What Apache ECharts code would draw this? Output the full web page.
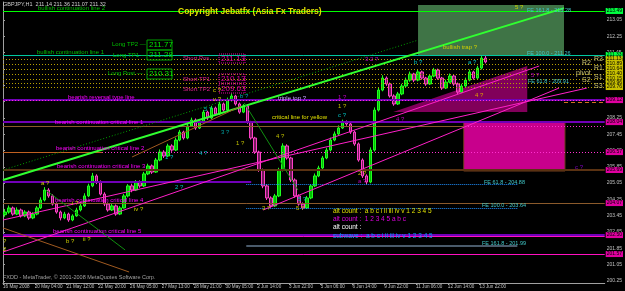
<!DOCTYPE html>
<html>
<head>
<meta charset="utf-8">
<script src="https://cdn.jsdelivr.net/npm/echarts@6/dist/echarts.min.js"></script>
<style>
html, body { margin: 0; padding: 0; background: #000; }
#chart { width: 625px; height: 291px; }
</style>
</head>
<body>
<div id="chart"></div>
<script>
// time axis (hour index) and price axis ticks
const timeTicks = [0, 32, 64, 96, 128, 160, 192, 224, 256, 288, 320, 352, 384, 416, 448, 480];
const timeLabels = ['16 May 2008', '20 May 04:00', '21 May 12:00', '22 May 20:00', '26 May 05:00', '27 May 13:00',
    '28 May 21:00', '30 May 05:00', '2 Jun 14:00', '3 Jun 22:00', '5 Jun 06:00', '6 Jun 14:00',
    '9 Jun 22:00', '11 Jun 06:00', '12 Jun 14:00', '13 Jun 22:00'];
const priceTicks = [200.25, 201.05, 201.85, 202.65, 203.45, 204.25, 205.05, 205.85, 206.65,
    207.45, 208.25, 209.05, 209.85, 210.65, 211.45, 212.25, 213.05];

// [hour, open, close, low, high]
const candles = [
    [2, 203.50, 203.63, 203.40, 203.78], [6, 203.63, 203.83, 203.55, 203.95], [10, 203.83, 203.53, 203.45, 203.90],
    [14, 203.53, 203.73, 203.48, 203.86], [18, 203.73, 203.44, 203.36, 203.80], [22, 203.44, 203.63, 203.38, 203.72],
    [26, 203.63, 203.34, 203.25, 203.70], [30, 203.34, 203.53, 203.28, 203.62], [34, 203.53, 203.83, 203.47, 203.92],
    [38, 203.83, 204.22, 203.78, 204.35], [42, 204.22, 204.71, 204.15, 204.85], [46, 204.71, 204.42, 204.33, 204.80],
    [50, 204.42, 204.02, 203.95, 204.50], [54, 204.02, 203.63, 203.55, 204.10], [58, 203.63, 203.34, 203.22, 203.70],
    [62, 203.34, 203.53, 203.28, 203.64], [66, 203.53, 203.24, 203.15, 203.60], [70, 203.24, 203.44, 203.18, 203.52],
    [74, 203.44, 203.73, 203.40, 203.84], [78, 203.73, 203.93, 203.66, 204.05], [82, 203.93, 204.42, 203.88, 204.55],
    [86, 204.42, 204.91, 204.36, 205.02], [90, 204.91, 205.40, 204.85, 205.55], [94, 205.40, 205.10, 205.00, 205.48],
    [98, 205.10, 204.51, 204.44, 205.18], [102, 204.51, 204.02, 203.92, 204.60], [106, 204.02, 203.73, 203.65, 204.10],
    [110, 203.73, 203.93, 203.68, 204.04], [114, 203.93, 203.53, 203.45, 204.00], [118, 203.53, 203.83, 203.48, 203.92],
    [122, 203.83, 204.42, 203.80, 204.52], [126, 204.42, 204.91, 204.35, 205.00], [130, 204.91, 204.71, 204.60, 205.02],
    [134, 204.71, 205.10, 204.66, 205.20], [138, 205.10, 204.91, 204.82, 205.18], [142, 204.91, 205.50, 204.86, 205.60],
    [146, 205.50, 205.89, 205.44, 206.00], [150, 205.89, 205.59, 205.50, 205.96], [154, 205.59, 206.18, 205.55, 206.28],
    [158, 206.18, 206.57, 206.12, 206.70], [162, 206.57, 206.38, 206.28, 206.66], [166, 206.38, 206.87, 206.32, 206.98],
    [170, 206.87, 206.67, 206.58, 206.95], [174, 206.67, 207.16, 206.62, 207.28], [178, 207.16, 207.55, 207.10, 207.66],
    [182, 207.55, 207.26, 207.18, 207.62], [186, 207.26, 207.85, 207.20, 207.96], [190, 207.85, 208.14, 207.80, 208.26],
    [194, 208.14, 207.75, 207.66, 208.22], [198, 207.75, 208.04, 207.70, 208.14], [202, 208.04, 208.53, 207.98, 208.64],
    [206, 208.53, 208.24, 208.15, 208.60], [210, 208.24, 208.73, 208.18, 208.84], [214, 208.73, 208.44, 208.36, 208.80],
    [218, 208.44, 208.93, 208.40, 209.04], [222, 208.93, 208.63, 208.55, 209.00], [226, 208.63, 209.12, 208.58, 209.24],
    [230, 209.12, 209.32, 209.05, 209.45], [234, 209.32, 208.93, 208.85, 209.38], [238, 208.93, 208.53, 208.45, 209.00],
    [242, 208.53, 208.83, 208.48, 208.92], [246, 208.83, 208.04, 207.96, 208.90], [250, 208.04, 207.26, 207.18, 208.10],
    [254, 207.26, 206.57, 206.48, 207.32], [258, 206.57, 205.69, 205.60, 206.64], [262, 205.69, 204.91, 204.80, 205.76],
    [266, 204.91, 204.32, 204.22, 205.00], [270, 204.32, 203.93, 203.84, 204.40], [274, 203.93, 204.42, 203.88, 204.52],
    [278, 204.42, 205.69, 204.36, 205.80], [282, 205.69, 206.87, 205.62, 207.00], [286, 206.87, 206.28, 206.20, 206.95],
    [290, 206.28, 205.20, 205.10, 206.34], [294, 205.20, 204.42, 204.34, 205.28], [298, 204.42, 204.02, 203.94, 204.50],
    [302, 204.02, 203.83, 203.74, 204.10], [306, 203.83, 204.32, 203.78, 204.42], [310, 204.32, 204.91, 204.26, 205.00],
    [314, 204.91, 205.40, 204.85, 205.52], [318, 205.40, 205.79, 205.34, 205.90], [322, 205.79, 206.28, 205.72, 206.38],
    [326, 206.28, 206.67, 206.22, 206.78], [330, 206.67, 207.16, 206.60, 207.28], [334, 207.16, 207.46, 207.10, 207.58],
    [338, 207.46, 207.75, 207.40, 207.88], [342, 207.75, 208.04, 207.70, 208.16], [346, 208.04, 207.95, 207.86, 208.12],
    [350, 207.95, 207.55, 207.46, 208.02], [354, 207.55, 206.97, 206.88, 207.62], [358, 206.97, 206.18, 206.10, 207.04],
    [362, 206.18, 205.40, 205.30, 206.26], [366, 205.40, 205.10, 204.98, 205.48], [370, 205.10, 206.67, 205.04, 206.80],
    [374, 206.67, 208.63, 206.60, 208.76], [378, 208.63, 209.61, 208.56, 209.74], [382, 209.61, 210.20, 209.55, 210.34],
    [386, 210.20, 209.91, 209.82, 210.28], [390, 209.91, 209.32, 209.24, 209.98], [394, 209.32, 208.93, 208.84, 209.40],
    [398, 208.93, 209.42, 208.88, 209.52], [402, 209.42, 209.81, 209.36, 209.92], [406, 209.81, 210.10, 209.74, 210.22],
    [410, 210.10, 210.40, 210.02, 210.52], [414, 210.40, 210.10, 210.00, 210.46], [418, 210.10, 210.50, 210.04, 210.62],
    [422, 210.50, 210.20, 210.12, 210.56], [426, 210.20, 209.91, 209.82, 210.26], [430, 209.91, 210.30, 209.86, 210.40],
    [434, 210.30, 210.59, 210.24, 210.70], [438, 210.59, 210.20, 210.12, 210.66], [442, 210.20, 209.71, 209.62, 210.26],
    [446, 209.71, 210.00, 209.66, 210.12], [450, 210.00, 210.30, 209.94, 210.42], [454, 210.30, 209.91, 209.82, 210.36],
    [458, 209.91, 209.51, 209.42, 209.98], [462, 209.51, 209.81, 209.46, 209.92], [466, 209.81, 210.10, 209.74, 210.22],
    [470, 210.10, 210.50, 210.04, 210.62], [474, 210.50, 210.20, 210.12, 210.56], [478, 210.20, 210.69, 210.14, 210.80],
    [482, 210.69, 211.18, 210.62, 211.30], [486, 211.18, 210.99, 210.92, 211.32]
];

// horizontal levels
const greenLevels = [213.49, 211.33];
const pivotLevels = [211.13, 210.89, 210.64, 210.40, 210.15, 209.96, 209.76];
const pivotNames = ['R3', 'R2', 'R1', 'pivot', 'S1', 'S2', 'S3'];
const purpleLevels = [209.12, 208.04, 202.50];
const magentaDotLevels = [209.12, 207.85, 206.57];
const brownLevels = [207.85, 205.69, 204.07];
const feLevels = [205.00, 203.83, 201.97];
const magentaLevels = [202.45, 201.57];
const magentaTags = [209.12, 208.04, 206.57, 205.69, 204.07, 202.50, 201.57];

// trend lines [[hour, price], [hour, price]]
const trendGreen = [[0, 205.20], [565, 213.63]];
const trendGreenDotted = [[0, 205.69], [418, 212.06]];
const trendMagenta = [
    [[0, 201.67], [540, 210.79]],
    [[0, 203.24], [588, 209.71]],
    [[262, 203.73], [560, 209.71]]
];
const trendBrown = [
    [[0, 202.85], [127, 200.69]],
    [[130, 206.33], [240, 208.83]]
];
const trendThinGreen = [
    [[43, 204.71], [123, 201.77]],
    [[243, 208.98], [297, 204.71]]
];

// zones
const greenZone = [[418, 213.78], [565, 211.28]];
const magentaZone = [[464, 208.04], [566, 205.64]];
const magentaWedge = [[393, 208.53], [528, 210.79], [528, 208.53]];

const FONT = 'Liberation Sans';
const XMAX = 606;

function seg(a, b, color, type, width) {
    return [{ coord: a, lineStyle: { color: color, type: type, width: width } }, { coord: b }];
}
function tag(item, p, bg) {
    item[0].label = {
        show: true, position: 'end', distance: 1, formatter: p.toFixed(2),
        backgroundColor: bg, color: '#000', fontSize: 5, fontFamily: FONT, padding: [1, 1, 0, 1]
    };
    return item;
}

let lines = [];
greenLevels.forEach(function (p, i) {
    lines.push(tag(seg([0, p], [XMAX, p], i == 0 ? '#00ff00' : '#00c8a0', 'solid', 1), p, '#00ff40'));
});
pivotLevels.forEach(function (p) {
    lines.push(tag(seg([0, p], [XMAX, p], '#b8a000', [1, 2], 1), p, '#c8c000'));
});
purpleLevels.forEach(function (p) {
    lines.push(seg([0, p], [XMAX, p], '#7000b8', 'solid', 2));
});
lines.push(seg([0, 205.10], [250, 205.10], '#7000b8', 'solid', 2));
magentaDotLevels.forEach(function (p) {
    lines.push(seg([0, p], [XMAX, p], '#ff30d0', [1, 2], 1));
});
lines.push(seg([0, 204.07], [245, 204.07], '#ff30d0', [1, 2], 1));
brownLevels.forEach(function (p, i) {
    lines.push(seg([i == 0 ? 0 : 245, p], [i == 0 ? 464 : XMAX, p], i == 1 ? '#5a3212' : '#8b5a2b', 'solid', i == 1 ? 2 : 1));
});
lines.push(seg([0, 205.69], [245, 205.69], '#5a3212', 'solid', 2));
lines.push(seg([0, 204.07], [245, 204.07], '#8b5a2b', 'solid', 1));
lines.push(seg([0, 206.57], [100, 206.57], '#c06020', 'solid', 1));
lines.push(seg([565, 209.02], [XMAX, 209.02], '#d07020', [4, 3], 1));
feLevels.forEach(function (p, i) {
    lines.push(seg([245, p], [518, p], i == 2 ? '#4a5a6a' : '#1e90ff', i == 2 ? 'solid' : [1, 1], i == 2 ? 2 : 1));
});
magentaLevels.forEach(function (p) {
    lines.push(seg([0, p], [XMAX, p], '#ff10c0', 'solid', 1));
});
magentaTags.forEach(function (p) {
    lines.push(tag(seg([XMAX - 1, p], [XMAX, p], 'rgba(0,0,0,0)', 'solid', 0), p, '#e000a0'));
});
lines.push(seg(trendGreen[0], trendGreen[1], '#30ff30', 'solid', 2));
lines.push(seg(trendGreenDotted[0], trendGreenDotted[1], '#00a000', [1, 2], 1));
trendMagenta.forEach(function (t) { lines.push(seg(t[0], t[1], '#ff20c8', 'solid', 1)); });
trendBrown.forEach(function (t) { lines.push(seg(t[0], t[1], '#a05a20', 'solid', 1)); });
trendThinGreen.forEach(function (t) { lines.push(seg(t[0], t[1], '#109010', 'solid', 1)); });

function txt(x, y, s, color, size, weight) {
    return {
        type: 'text', x: x, y: y, z: 100, silent: true,
        style: { text: s, fill: color, fontSize: size || 6, fontFamily: FONT, fontWeight: weight || 'normal', verticalAlign: 'top' }
    };
}
function box(x, y, w, h, color, dash) {
    return {
        type: 'rect', z: 100, silent: true, shape: { x: x, y: y, width: w, height: h },
        style: { fill: 'none', stroke: color, lineWidth: 1, lineDash: dash ? [1, 1] : null }
    };
}

let graphics = [
    txt(3, 1, 'GBPJPY,H1  211.14 211.36 211.07 211.32', '#d0d0d0', 5.5),
    txt(38, 5, 'bullish continuation line 2', '#00c000', 6),
    txt(178, 7, 'Copyright Jebatfx (Asia Fx Traders)', '#e0e000', 8.5, 'bold'),
    txt(112, 41, 'Long TP2 \u2014', '#00c000', 6),
    box(147, 40, 25, 10, '#00a000'), txt(149, 41, '211.77', '#00e000', 8),
    txt(37, 49, 'bullish continuation line 1', '#00c000', 6),
    txt(113, 52, 'Long TP1 \u2014', '#00c000', 6),
    box(147, 50, 25, 10, '#00a000'), txt(149, 51, '211.28', '#00e000', 8),
    txt(108, 70, 'Long Post \u2014', '#00c000', 6),
    box(147, 69, 25, 10, '#00a000'), txt(149, 70, '210.31', '#00e000', 8),
    txt(183, 55, 'Short Pos', '#e02090', 6),
    box(219, 54, 26, 9, '#e000a0', true), txt(221, 55, '211.13', '#e000a0', 8),
    txt(183, 76, 'Short TP1', '#e02090', 6),
    box(219, 74, 26, 9, '#e000a0', true), txt(221, 75, '210.13', '#e000a0', 8),
    txt(183, 86, 'Short TP2', '#e02090', 6),
    box(219, 84, 26, 9, '#e000a0', true), txt(221, 85, '209.63', '#e000a0', 8),
    txt(68, 94, 'bearish reversal type line', '#ff00ff', 6),
    txt(55, 119, 'bearish continuation critical line 1', '#ff00ff', 6),
    txt(56, 145, 'bearish continuation critical line 2', '#ff00ff', 6),
    txt(57, 163, 'bearish continuation critical line 3', '#ff00ff', 6),
    txt(55, 197, 'bearish continuation critical line 4', '#ff00ff', 6),
    txt(53, 228, 'bearish continuation critical line 5', '#ff00ff', 6),
    txt(278, 95, 'triple top ?', '#c8a8ff', 6),
    txt(272, 114, 'critical line for yellow', '#e0e000', 6),
    txt(443, 44, 'bullish trap ?', '#d0d000', 6),
    txt(515, 4, '5 ?', '#d0d000', 6),
    txt(527, 7, 'FE 161.8 - 213.28', '#40c8c8', 5.5),
    txt(527, 50, 'FE 100.0 - 211.26', '#40c8c8', 5.5),
    txt(528, 78, 'FE 61.8 - 209.91', '#40c8c8', 5.5),
    txt(484, 179, 'FE 61.8 - 204.88', '#40c8c8', 5.5),
    txt(482, 202, 'FE 100.0 - 203.64', '#40c8c8', 5.5),
    txt(482, 240, 'FE 161.8 - 201.99', '#40c8c8', 5.5),
    txt(333, 208, 'alt count :  a b c i ii iii iv v 1 2 3 4 5', '#e0e000', 6.5),
    txt(333, 216, 'alt count :  1 2 3 4 5 a b c', '#e000e0', 6.5),
    txt(333, 224, 'alt count :', '#ffffff', 6.5),
    txt(333, 233, 'subwave :  a b c i ii iii iv v 1 2 3 4 5', '#00a0ff', 6.5),
    txt(3, 274, 'FXDD - MetaTrader, \u00a9 2001-2008 MetaQuotes Software Corp.', '#a0a0a0', 5.5)
];
const pivotPos = [[594, 56], [582, 60], [594, 65], [576, 70], [594, 74], [582, 77], [594, 83]];
pivotNames.forEach(function (n, i) {
    graphics.push(txt(pivotPos[i][0], pivotPos[i][1], n, '#c8c070', 7));
});
const waves = [
    [41, 180, 'a ?', '#d0d000'], [66, 238, 'b ?', '#d0d000'], [83, 236, 'ii ?', '#d0d000'],
    [72, 200, 'i ?', '#d0d000'], [134, 206, 'iv ?', '#d0d000'], [3, 238, '?', '#d0d000'], [3, 246, '2', '#d0d000'],
    [213, 87, 'c ?', '#d0d000'], [213, 96, 'v ?', '#d0d000'], [204, 106, '5 ?', '#00c0c0'],
    [240, 93, 'b ?', '#00a0c0'], [221, 129, '3 ?', '#00a0a0'], [236, 140, '1 ?', '#c0c000'],
    [276, 133, '4 ?', '#c0c000'], [199, 150, '4 ?', '#00c0c0'], [165, 154, '1 ?', '#00c0c0'],
    [175, 184, '2 ?', '#00c0c0'], [338, 94, '1 ?', '#c000c0'], [338, 103, '1 ?', '#c0c000'],
    [338, 112, 'c ?', '#00c0c0'], [358, 170, '2 ?', '#c0c000'], [358, 178, 'a ?', '#c000c0'],
    [262, 205, '3 ?', '#c0c000'], [296, 205, '5 ?', '#c0c000'], [298, 196, '5 ?', '#00c0c0'],
    [365, 56, '3 2 ?', '#c000c0'], [414, 59, 'b ?', '#00c0c0'], [468, 59, 'a ?', '#00c0c0'],
    [475, 92, '4 ?', '#e0a000'], [531, 72, '5 ?', '#c000c0'], [575, 164, 'c ?', '#8000c0'],
    [396, 116, '4 ?', '#c000c0']
];
waves.forEach(function (w) { graphics.push(txt(w[0], w[1], w[2], w[3], 6)); });

let chart = echarts.init(document.getElementById('chart'));
chart.setOption({
    animation: false,
    backgroundColor: '#000',
    grid: { left: 0, right: 19, top: 2, bottom: 8 },
    xAxis: {
        type: 'value', min: 0, max: XMAX,
        axisLine: { lineStyle: { color: '#a0a0a0' } },
        axisTick: { customValues: timeTicks, length: 2, lineStyle: { color: '#a0a0a0' } },
        axisLabel: {
            customValues: timeTicks, align: 'left', margin: 1, color: '#c0c0c0', fontSize: 4.6, fontFamily: FONT,
            formatter: function (v) { let i = timeTicks.indexOf(Math.round(v)); return i < 0 ? '' : timeLabels[i]; }
        },
        splitLine: { show: false }
    },
    yAxis: {
        type: 'value', position: 'right', min: 200.15, max: 213.93,
        axisLine: { show: true, lineStyle: { color: '#a0a0a0' } },
        axisTick: { show: true, customValues: priceTicks, length: 2, lineStyle: { color: '#a0a0a0' } },
        axisLabel: {
            customValues: priceTicks, margin: 2, color: '#c0c0c0', fontSize: 5, fontFamily: FONT,
            formatter: function (v) { return v.toFixed(2); }
        },
        splitLine: { show: false }
    },
    series: [
        {
            name: 'zones', type: 'line', data: [], z: 1,
            markArea: {
                silent: true,
                data: [
                    [{ coord: greenZone[0], itemStyle: { color: '#3f7446' } }, { coord: greenZone[1] }],
                    [{ coord: magentaZone[0], itemStyle: { color: '#c8008c', borderColor: '#6b3a1a', borderWidth: 1 } }, { coord: magentaZone[1] }]
                ]
            }
        },
        {
            name: 'wedge', type: 'custom', z: 2, silent: true,
            data: [magentaWedge[0]],
            renderItem: function (params, api) {
                return {
                    type: 'polygon',
                    shape: { points: magentaWedge.map(function (p) { return api.coord(p); }) },
                    style: { fill: 'rgba(215,0,150,0.6)' }
                };
            }
        },
        {
            name: 'lines', type: 'line', data: [], z: 3,
            markLine: { silent: true, symbol: ['none', 'none'], label: { show: false }, data: lines }
        },
        {
            name: 'GBPJPY', type: 'candlestick', z: 4,
            dimensions: ['t', 'open', 'close', 'lowest', 'highest'],
            encode: { x: 't', y: ['open', 'close', 'lowest', 'highest'] },
            barWidth: 3,
            itemStyle: {
                color: '#00c000', borderColor: '#20ff20',
                color0: 'rgba(255,60,200,0.45)', borderColor0: '#ff40c8', borderWidth: 1
            },
            data: candles
        }
    ],
    graphic: graphics
});
</script>
</body>
</html>
